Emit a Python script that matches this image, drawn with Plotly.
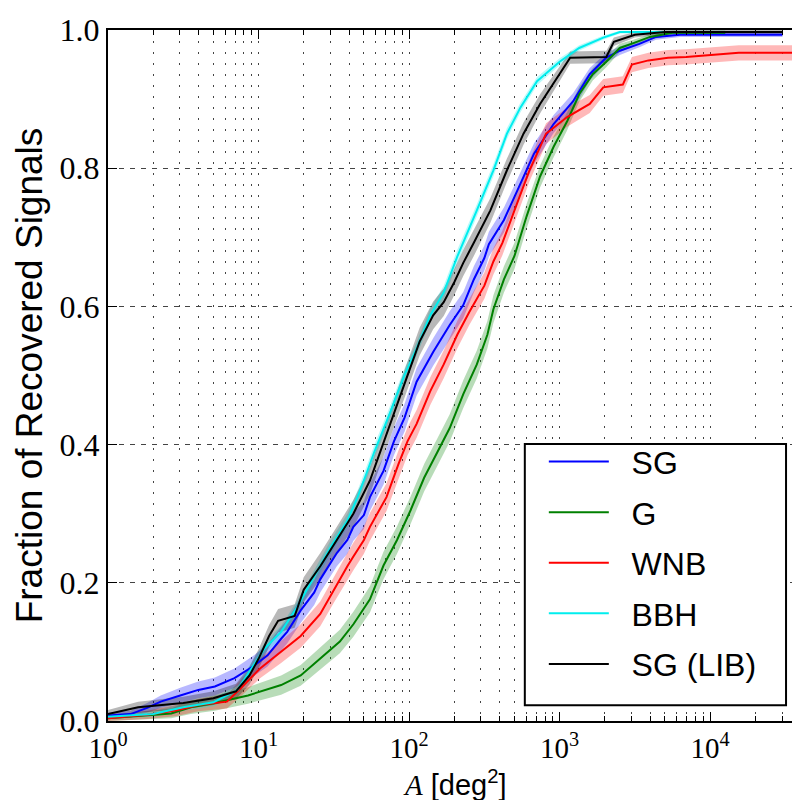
import plotly.graph_objects as go

# ---- data (x stored as log10 of area in deg^2) ----
sg_log10A = [0.0, 0.15, 0.26, 0.35, 0.48, 0.60, 0.71, 0.84, 0.97, 1.06, 1.15, 1.19, 1.28, 1.37, 1.41,
             1.48, 1.52, 1.59, 1.63, 1.70, 1.74, 1.83, 1.90, 1.97, 2.05, 2.16, 2.27, 2.36, 2.43, 2.50,
             2.53, 2.63, 2.74, 2.83, 2.96, 3.09, 3.20, 3.31, 3.40, 3.53, 3.64, 3.80, 4.48]
sg_frac = [0.008, 0.010, 0.019, 0.028, 0.037, 0.045, 0.050, 0.062, 0.080, 0.095, 0.119, 0.129, 0.160, 0.186, 0.205,
           0.229, 0.243, 0.262, 0.281, 0.298, 0.324, 0.362, 0.405, 0.439, 0.491, 0.534, 0.573, 0.602, 0.639, 0.670,
           0.690, 0.725, 0.778, 0.821, 0.864, 0.897, 0.936, 0.960, 0.970, 0.980, 0.990, 0.993, 0.993]
sg_err = [0.004, 0.005, 0.007, 0.009, 0.011, 0.012, 0.013, 0.014, 0.015, 0.016, 0.017, 0.017, 0.018, 0.018, 0.019,
          0.019, 0.019, 0.020, 0.020, 0.020, 0.020, 0.020, 0.020, 0.020, 0.020, 0.020, 0.020, 0.019, 0.019, 0.018,
          0.018, 0.018, 0.016, 0.015, 0.013, 0.012, 0.009, 0.007, 0.006, 0.005, 0.004, 0.003, 0.003]

g_log10A = [0.0, 0.42, 0.55, 0.71, 0.93, 1.15, 1.28, 1.41, 1.54, 1.63, 1.74, 1.83, 1.92, 2.01, 2.10, 2.19,
            2.27, 2.36, 2.45, 2.52, 2.56, 2.63, 2.70, 2.78, 2.87, 2.96, 3.05, 3.13, 3.22, 3.31, 3.40, 3.49,
            3.60, 3.75, 4.10]
g_frac = [0.004, 0.011, 0.020, 0.026, 0.037, 0.052, 0.066, 0.090, 0.115, 0.140, 0.176, 0.225, 0.262, 0.305, 0.352, 0.390,
          0.424, 0.473, 0.516, 0.559, 0.596, 0.639, 0.673, 0.730, 0.788, 0.831, 0.868, 0.907, 0.936, 0.954, 0.974, 0.981,
          0.990, 0.996, 0.996]
g_err = [0.004, 0.007, 0.010, 0.011, 0.012, 0.014, 0.015, 0.016, 0.017, 0.018, 0.019, 0.020, 0.020, 0.020, 0.020, 0.020,
         0.020, 0.020, 0.020, 0.020, 0.020, 0.019, 0.019, 0.018, 0.016, 0.015, 0.013, 0.011, 0.009, 0.008, 0.006, 0.005,
         0.004, 0.003, 0.003]

wnb_log10A = [0.0, 0.26, 0.45, 0.60, 0.79, 0.88, 1.01, 1.15, 1.28, 1.41, 1.50, 1.59, 1.63, 1.70, 1.74, 1.85,
              1.93, 1.99, 2.05, 2.14, 2.23, 2.32, 2.40, 2.50, 2.56, 2.62, 2.70, 2.80, 2.91, 3.05, 3.20, 3.29,
              3.42, 3.48, 3.59, 3.72, 3.84, 4.19, 4.61]
wnb_frac = [0.004, 0.009, 0.015, 0.023, 0.028, 0.047, 0.076, 0.100, 0.123, 0.155, 0.190, 0.224, 0.238, 0.262, 0.281, 0.324,
            0.372, 0.405, 0.430, 0.477, 0.516, 0.559, 0.592, 0.630, 0.665, 0.692, 0.739, 0.797, 0.850, 0.874, 0.893, 0.917,
            0.921, 0.950, 0.956, 0.960, 0.961, 0.967, 0.967]
wnb_err = [0.004, 0.006, 0.008, 0.009, 0.010, 0.012, 0.014, 0.016, 0.017, 0.018, 0.019, 0.019, 0.020, 0.020, 0.020, 0.020,
           0.020, 0.020, 0.020, 0.020, 0.020, 0.020, 0.019, 0.019, 0.019, 0.018, 0.018, 0.016, 0.015, 0.014, 0.013, 0.012,
           0.012, 0.011, 0.011, 0.011, 0.011, 0.011, 0.011]

bbh_log10A = [0.0, 0.30, 0.50, 0.70, 0.86, 0.95, 1.04, 1.15, 1.26, 1.37, 1.48, 1.59, 1.66, 1.72, 1.77, 1.87,
              1.97, 2.05, 2.14, 2.23, 2.32, 2.45, 2.56, 2.65, 2.74, 2.85, 3.00, 3.13, 3.29, 3.40, 4.10]
bbh_frac = [0.006, 0.010, 0.020, 0.027, 0.045, 0.076, 0.105, 0.129, 0.166, 0.209, 0.252, 0.290, 0.325, 0.360, 0.390, 0.444,
            0.501, 0.539, 0.587, 0.620, 0.672, 0.739, 0.797, 0.850, 0.888, 0.926, 0.954, 0.974, 0.989, 0.997, 0.997]
bbh_err = [0.003, 0.004, 0.005, 0.006, 0.007, 0.008, 0.008, 0.009, 0.009, 0.010, 0.010, 0.010, 0.010, 0.010, 0.010, 0.010,
           0.010, 0.010, 0.010, 0.010, 0.010, 0.009, 0.009, 0.008, 0.007, 0.006, 0.005, 0.004, 0.003, 0.002, 0.002]

lib_log10A = [0.0, 0.20, 0.50, 0.70, 0.85, 0.94, 1.00, 1.07, 1.13, 1.24, 1.30, 1.41, 1.52, 1.63, 1.74, 1.81,
              1.90, 1.99, 2.07, 2.16, 2.23, 2.30, 2.36, 2.43, 2.54, 2.65, 2.76, 2.87, 3.00, 3.07, 3.31, 3.36,
              3.50, 3.70, 4.48]
lib_frac = [0.010, 0.020, 0.026, 0.033, 0.043, 0.066, 0.090, 0.123, 0.145, 0.152, 0.190, 0.224, 0.262, 0.300, 0.348, 0.390,
            0.444, 0.501, 0.549, 0.587, 0.606, 0.635, 0.663, 0.692, 0.739, 0.797, 0.850, 0.893, 0.936, 0.960, 0.961, 0.983,
            0.993, 0.997, 0.997]
lib_err = [0.006, 0.008, 0.009, 0.010, 0.011, 0.013, 0.014, 0.016, 0.017, 0.017, 0.018, 0.019, 0.019, 0.020, 0.020, 0.020,
           0.020, 0.020, 0.020, 0.020, 0.020, 0.019, 0.019, 0.019, 0.018, 0.017, 0.016, 0.014, 0.011, 0.009, 0.009, 0.006,
           0.004, 0.003, 0.003]

series = [
    ("SG", sg_log10A, sg_frac, sg_err, "#0000ff", "rgba(0,0,255,0.28)"),
    ("G", g_log10A, g_frac, g_err, "#008000", "rgba(0,128,0,0.28)"),
    ("WNB", wnb_log10A, wnb_frac, wnb_err, "#ff0000", "rgba(255,0,0,0.28)"),
    ("BBH", bbh_log10A, bbh_frac, bbh_err, "#00eeee", "rgba(0,238,238,0.28)"),
    ("SG (LIB)", lib_log10A, lib_frac, lib_err, "#000000", "rgba(0,0,0,0.28)"),
]

x_tick_vals = [1, 10, 100, 1000, 10000]
x_tick_text = ["10<sup>0</sup>", "10<sup>1</sup>", "10<sup>2</sup>", "10<sup>3</sup>", "10<sup>4</sup>"]
x_minor_vals = [m * 10 ** k for k in range(5) for m in range(2, 10)]
y_tick_vals = [0.0, 0.2, 0.4, 0.6, 0.8, 1.0]
y_tick_text = ["0.0", "0.2", "0.4", "0.6", "0.8", "1.0"]
x_title = "<i><span style='font-family:Liberation Serif'>A</span></i> [deg<sup>2</sup>]"
y_title = "Fraction of Recovered Signals"

fig = go.Figure()

# error bands
for name, lx, fr, er, col, fcol in series:
    xs = [10 ** v for v in lx]
    lo = [max(0.0, f - e) for f, e in zip(fr, er)]
    hi = [min(1.0, f + e) for f, e in zip(fr, er)]
    fig.add_trace(go.Scatter(x=xs, y=lo, mode="lines", line=dict(width=0), showlegend=False, hoverinfo="skip"))
    fig.add_trace(go.Scatter(x=xs, y=hi, mode="lines", line=dict(width=0), fill="tonexty",
                             fillcolor=fcol, showlegend=False, hoverinfo="skip"))

# lines
for i, (name, lx, fr, er, col, fcol) in enumerate(series):
    xs = [10 ** v for v in lx]
    fig.add_trace(go.Scatter(x=xs, y=fr, mode="lines", name="\u00a0\u00a0" + name, legendgroup=f"g{i}",
                             line=dict(color=col, width=2)))

serif = "Liberation Serif, DejaVu Serif, serif"
sans = "Liberation Sans, Arial, sans-serif"

fig.update_layout(
    width=800, height=800,
    margin=dict(l=100, r=4, t=15, b=87),
    paper_bgcolor="white", plot_bgcolor="white",
    showlegend=True,
    legend=dict(x=0.628, y=0.415, xanchor="left", yanchor="top",
                bgcolor="rgba(0,0,0,0)", borderwidth=0,
                font=dict(family=sans, size=32, color="black"),
                tracegroupgap=6, traceorder="grouped", itemwidth=60),
    shapes=[dict(type="rect", xref="paper", yref="paper", x0=0.6006, x1=0.977, y0=0.0229, y1=0.401,
                 fillcolor="white", line=dict(color="black", width=2), layer="above")],
    annotations=[dict(text=x_title, xref="paper", yref="paper", x=0.5, y=-0.118,
                      xanchor="center", yanchor="bottom", showarrow=False,
                      font=dict(family=sans, size=29, color="black"))],
    xaxis=dict(type="log", range=[0, 4.61],
               tickmode="array", tickvals=x_tick_vals, ticktext=x_tick_text,
               tickfont=dict(family=serif, size=29, color="black"), ticklabeloverflow="allow",
               ticks="inside", ticklen=9, tickwidth=1, tickcolor="black",
               showline=True, linewidth=2, linecolor="black", mirror="ticks",
               showgrid=True, gridcolor="#444", gridwidth=1, griddash="2px,9px",
               minor=dict(tickmode="array", tickvals=x_minor_vals, ticks="inside", ticklen=5,
                          tickcolor="black", showgrid=True, gridcolor="#444", gridwidth=1, griddash="2px,9px"),
               zeroline=False),
    yaxis=dict(range=[0, 1], tickmode="array", tickvals=y_tick_vals, ticktext=y_tick_text,
               tickfont=dict(family=serif, size=32, color="black"), ticklabeloverflow="allow",
               ticks="inside", ticklen=9, tickwidth=1, tickcolor="black",
               showline=True, linewidth=2, linecolor="black", mirror="ticks",
               showgrid=True, gridcolor="#444", gridwidth=1, griddash="5px,6px",
               zeroline=False,
               title=dict(text=y_title, font=dict(family=sans, size=37, color="black"), standoff=6)),
)

fig.write_html("out.html")
